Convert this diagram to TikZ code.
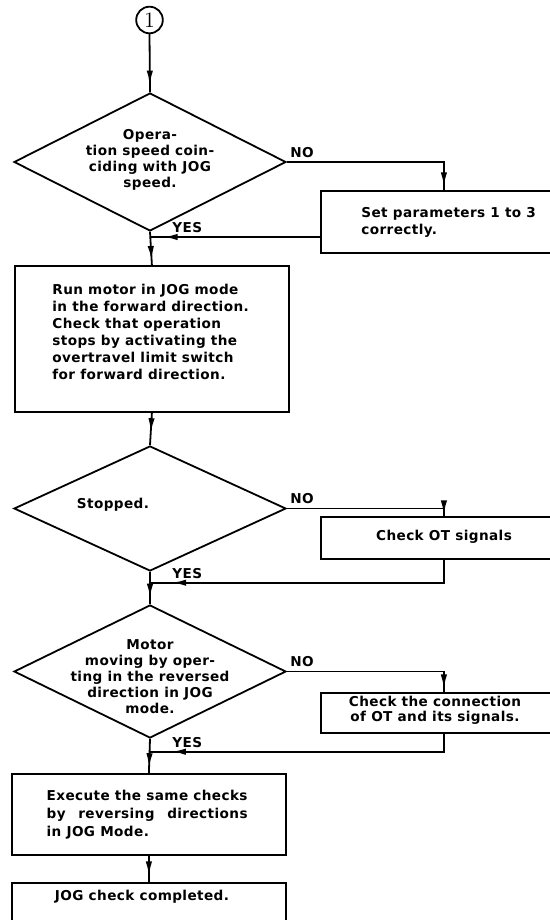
\documentclass[tikz,border=0pt]{standalone}
\usepackage{fontspec}
\usepackage{calc}
\newfontfamily\flowfont[LetterSpace=3]{DejaVu Sans}
\usetikzlibrary{arrows.meta, shapes.geometric, decorations.markings}

\begin{document}
\begin{tikzpicture}[
      x=0.5pt, y=-0.5pt,
      flow/.style={draw=black, line width=0.9pt},
      midarrow/.style={
         postaction={decorate},
         decoration={markings,
            mark=at position #1 with {\arrow{Latex[length=7pt,width=3.2pt]}}}},
      ask/.style={
         diamond,
         draw=black,
         line width=0.9pt,
         inner sep=0pt,
         minimum width=136pt},
      chk/.style={
         rectangle,
         draw=black,
         line width=0.9pt,
         inner sep=0pt,
         anchor=north west},
      txt/.style={font=\flowfont\bfseries\fontsize{6.8}{8}\selectfont, inner sep=0pt, align=center},
      lbl/.style={font=\flowfont\bfseries\fontsize{6.8}{8}\selectfont, inner sep=0pt, anchor=south west}
      ]
      \useasboundingbox (0,0) rectangle (550,920);

      \node[circle, draw=black, line width=0.9pt, minimum size=13.3pt, inner sep=0pt,
            font=\fontsize{11}{11}\selectfont] (start) at (149.5,20) {1};

      % speed check
      \node[ask, minimum height=69pt] (d1) at (150,162) {};
      \node[txt] (q1) at (150,160) {Opera-\\tion speed coin-\\ciding with JOG\\speed.};
      \node[lbl] (no1) at (290,158) {NO};
      \node[chk, minimum width=123pt, minimum height=31pt] (b1) at (320,190) {};
      \node[txt, align=left, anchor=west, font=\flowfont\bfseries\fontsize{6.8}{8.5}\selectfont]
         (a1) at (361,222) {Set parameters 1 to 3\\correctly.};
      \coordinate (j1) at (150,237);
      \node[lbl] (yes1) at (172,233) {YES};

      % forward run
      \node[chk, minimum width=137pt, minimum height=73pt] (b2) at (14,265) {};
      \node[txt, align=left, anchor=north west, font=\flowfont\bfseries\fontsize{6.8}{8.5}\selectfont]
         (a2) at (52,284) {Run motor in JOG mode\\in the forward direction.\\Check that operation\\stops by activating the\\overtravel limit switch\\for forward direction.};

      % stop check
      \node[ask, minimum height=62.5pt] (d2) at (150,508.5) {};
      \node[txt] (q2) at (113,505) {Stopped.};
      \node[lbl] (no2) at (290,504) {NO};
      \node[chk, minimum width=123pt, minimum height=21pt] (b3) at (320,516) {};
      \node[txt] (a3) at (444,537) {Check OT signals};
      \coordinate (j2) at (150,582.7);
      \node[lbl] (yes2) at (172,579) {YES};

      % reverse run
      \node[ask, minimum height=66.5pt] (d3) at (150,671.5) {};
      \node[txt] (q3) at (150,677) {Motor\\moving by oper-\\ting in the reversed\\direction in JOG\\mode.};
      \node[lbl] (no3) at (290,667) {NO};
      \node[chk, minimum width=123pt, minimum height=20pt] (b4) at (320,692) {};
      \node[txt, font=\flowfont\bfseries\fontsize{6.8}{7.5}\selectfont] (a4) at (435,710) {Check the connection\\of OT and its signals.};
      \coordinate (j3) at (150,751.7);
      \node[lbl] (yes3) at (172,748) {YES};

      \node[chk, minimum width=137pt, minimum height=40.5pt] (b5) at (11,773) {};
      \node[txt, align=left, anchor=north east, font=\flowfont\bfseries\fontsize{6.8}{9}\selectfont]
         (a5) at (248,790) {Execute the same checks\\\makebox[\widthof{Execute the same checks}][s]{by reversing directions}\\in JOG Mode.};
      \node[chk, minimum width=137pt, minimum height=30pt] (b6) at (11,882) {};
      \node[txt] (a6) at (142,897) {JOG check completed.};

    \foreach \i/\j/\p in {% from/to/arrow position
      start.south/d1.north/0.87,
      d1.south/b2.north/0.85,
      b2.south/d2.north/0.6,
      d2.south/d3.north/0.8,
      d3.south/b5.north/0.83,
      b5.south/b6.north/0.75
      }
       \draw [flow, midarrow=\p] (\i) -- (\j);

    % NO branches
    \draw [flow, midarrow=0.98] (d1.east) -| (b1.north);
    \draw [flow, midarrow=0.99] (d2.east) -| (b3.north);
    \draw [flow, midarrow=0.98] (d3.east) -| (b4.north);

    % back to the main line
    \draw [flow, midarrow=0.92] (b1.west |- j1) -- (j1);
    \draw [flow, midarrow=0.93] (b3.south) |- (j2);
    \draw [flow, midarrow=0.93] (b4.south) |- (j3);

    \end{tikzpicture}
\end{document}
